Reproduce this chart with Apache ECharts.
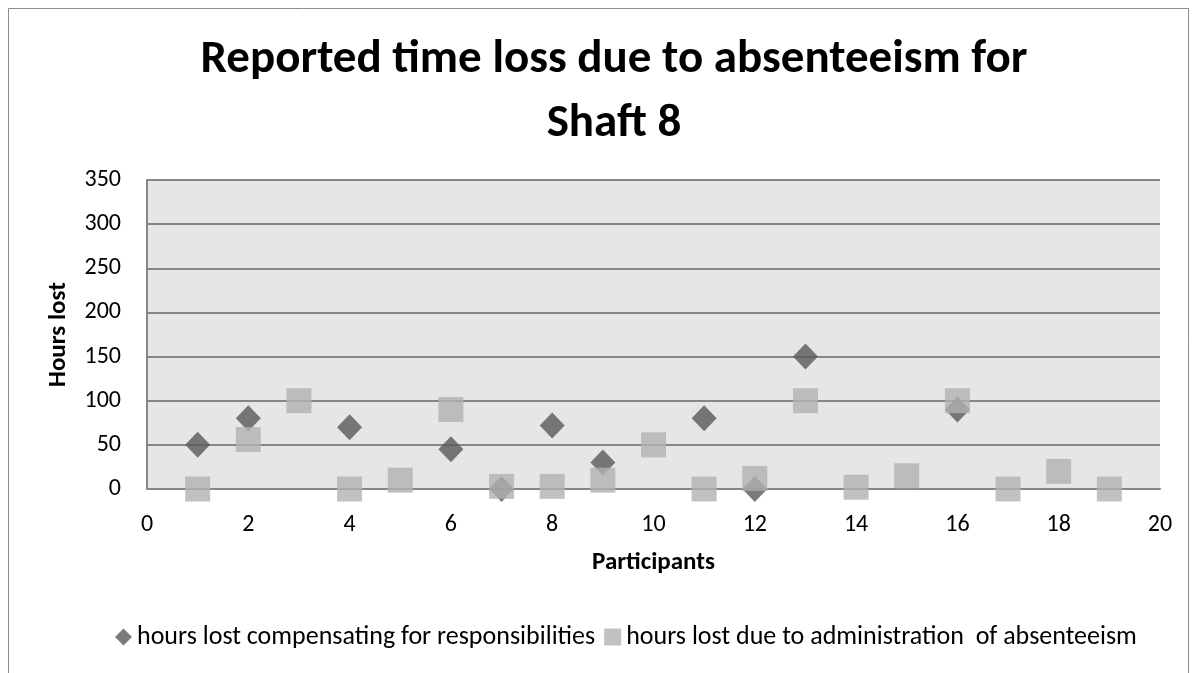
<!DOCTYPE html>
<html>
<head>
<meta charset="utf-8">
<script src="https://cdn.jsdelivr.net/npm/echarts@6/dist/echarts.min.js"></script>
<style>
html,body{margin:0;padding:0;background:#fff;}
#chart{width:1196px;height:673px;}
</style>
</head>
<body>
<div id="chart"></div>
<script>
var titleText = 'Reported time loss due to absenteeism for\nShaft 8';
var seriesNames = ['hours lost compensating for responsibilities', 'hours lost due to administration  of absenteeism'];
// [participant, hours]
var compensating = [[1,50],[2,80],[4,70],[6,45],[7,0],[8,72],[9,30],[11,80],[12,0],[13,150],[16,90]];
var administration = [[1,0],[2,56],[3,100],[4,0],[5,10],[6,90],[7,3],[8,3],[9,10],[10,50],[11,0],[12,12],[13,100],[14,2],[15,15],[16,100],[17,0],[18,20],[19,0]];
var xTicks = {min:0, max:20, interval:2};
var yTicks = {min:0, max:350, interval:50};

var FONT = "Carlito, 'Liberation Sans Narrow', 'DejaVu Sans Condensed', 'Open Sans', sans-serif";
var chart = echarts.init(document.getElementById('chart'));
chart.setOption({
  backgroundColor:'#ffffff',
  animation:false,
  graphic:[{type:'rect', shape:{x:8.5,y:8.5,width:1180,height:700}, style:{fill:'none', stroke:'#8c8c8c', lineWidth:1}, z:-10}],
  title:{text:titleText, left:609, top:23, textAlign:'center',
    textStyle:{fontFamily:FONT, fontSize:47, fontWeight:'bold', color:'#000', lineHeight:64}},
  grid:{left:147, right:36, top:180, bottom:184, show:true, backgroundColor:'#e6e6e6', borderWidth:0},
  xAxis:{type:'value', min:xTicks.min, max:xTicks.max, interval:xTicks.interval,
    name:'Participants', nameLocation:'middle', nameGap:61,
    nameTextStyle:{fontFamily:FONT, fontSize:25, fontWeight:'bold', color:'#000'},
    axisLine:{show:true, onZero:false, lineStyle:{color:'#868686', width:2}},
    axisTick:{show:false}, splitLine:{show:false},
    axisLabel:{fontFamily:FONT, fontSize:24, color:'#000', margin:24}},
  yAxis:{type:'value', min:yTicks.min, max:yTicks.max, interval:yTicks.interval,
    name:'Hours lost', nameLocation:'middle', nameGap:76, nameRotate:90,
    nameTextStyle:{fontFamily:FONT, fontSize:25, fontWeight:'bold', color:'#000'},
    axisLine:{show:true, lineStyle:{color:'#868686', width:2}},
    axisTick:{show:false},
    splitLine:{show:true, lineStyle:{color:'#868686', width:2}},
    axisLabel:{fontFamily:FONT, fontSize:24, color:'#000', margin:26}},
  legend:{bottom:18, left:110, itemGap:9, itemWidth:17, itemHeight:17,
    textStyle:{fontFamily:FONT, fontSize:26, color:'#000'},
    data:[{name:seriesNames[0], icon:'diamond'},{name:seriesNames[1], icon:'rect'}]},
  series:[
    {name:seriesNames[0], type:'scatter', data:compensating, symbol:'diamond', symbolSize:[25,26],
     itemStyle:{color:'#595959'}, z:2},
    {name:seriesNames[1], type:'scatter', data:administration, symbol:'rect', symbolSize:[25,25],
     itemStyle:{color:'#b2b2b2'}, z:3}
  ]
});
</script>
</body>
</html>
